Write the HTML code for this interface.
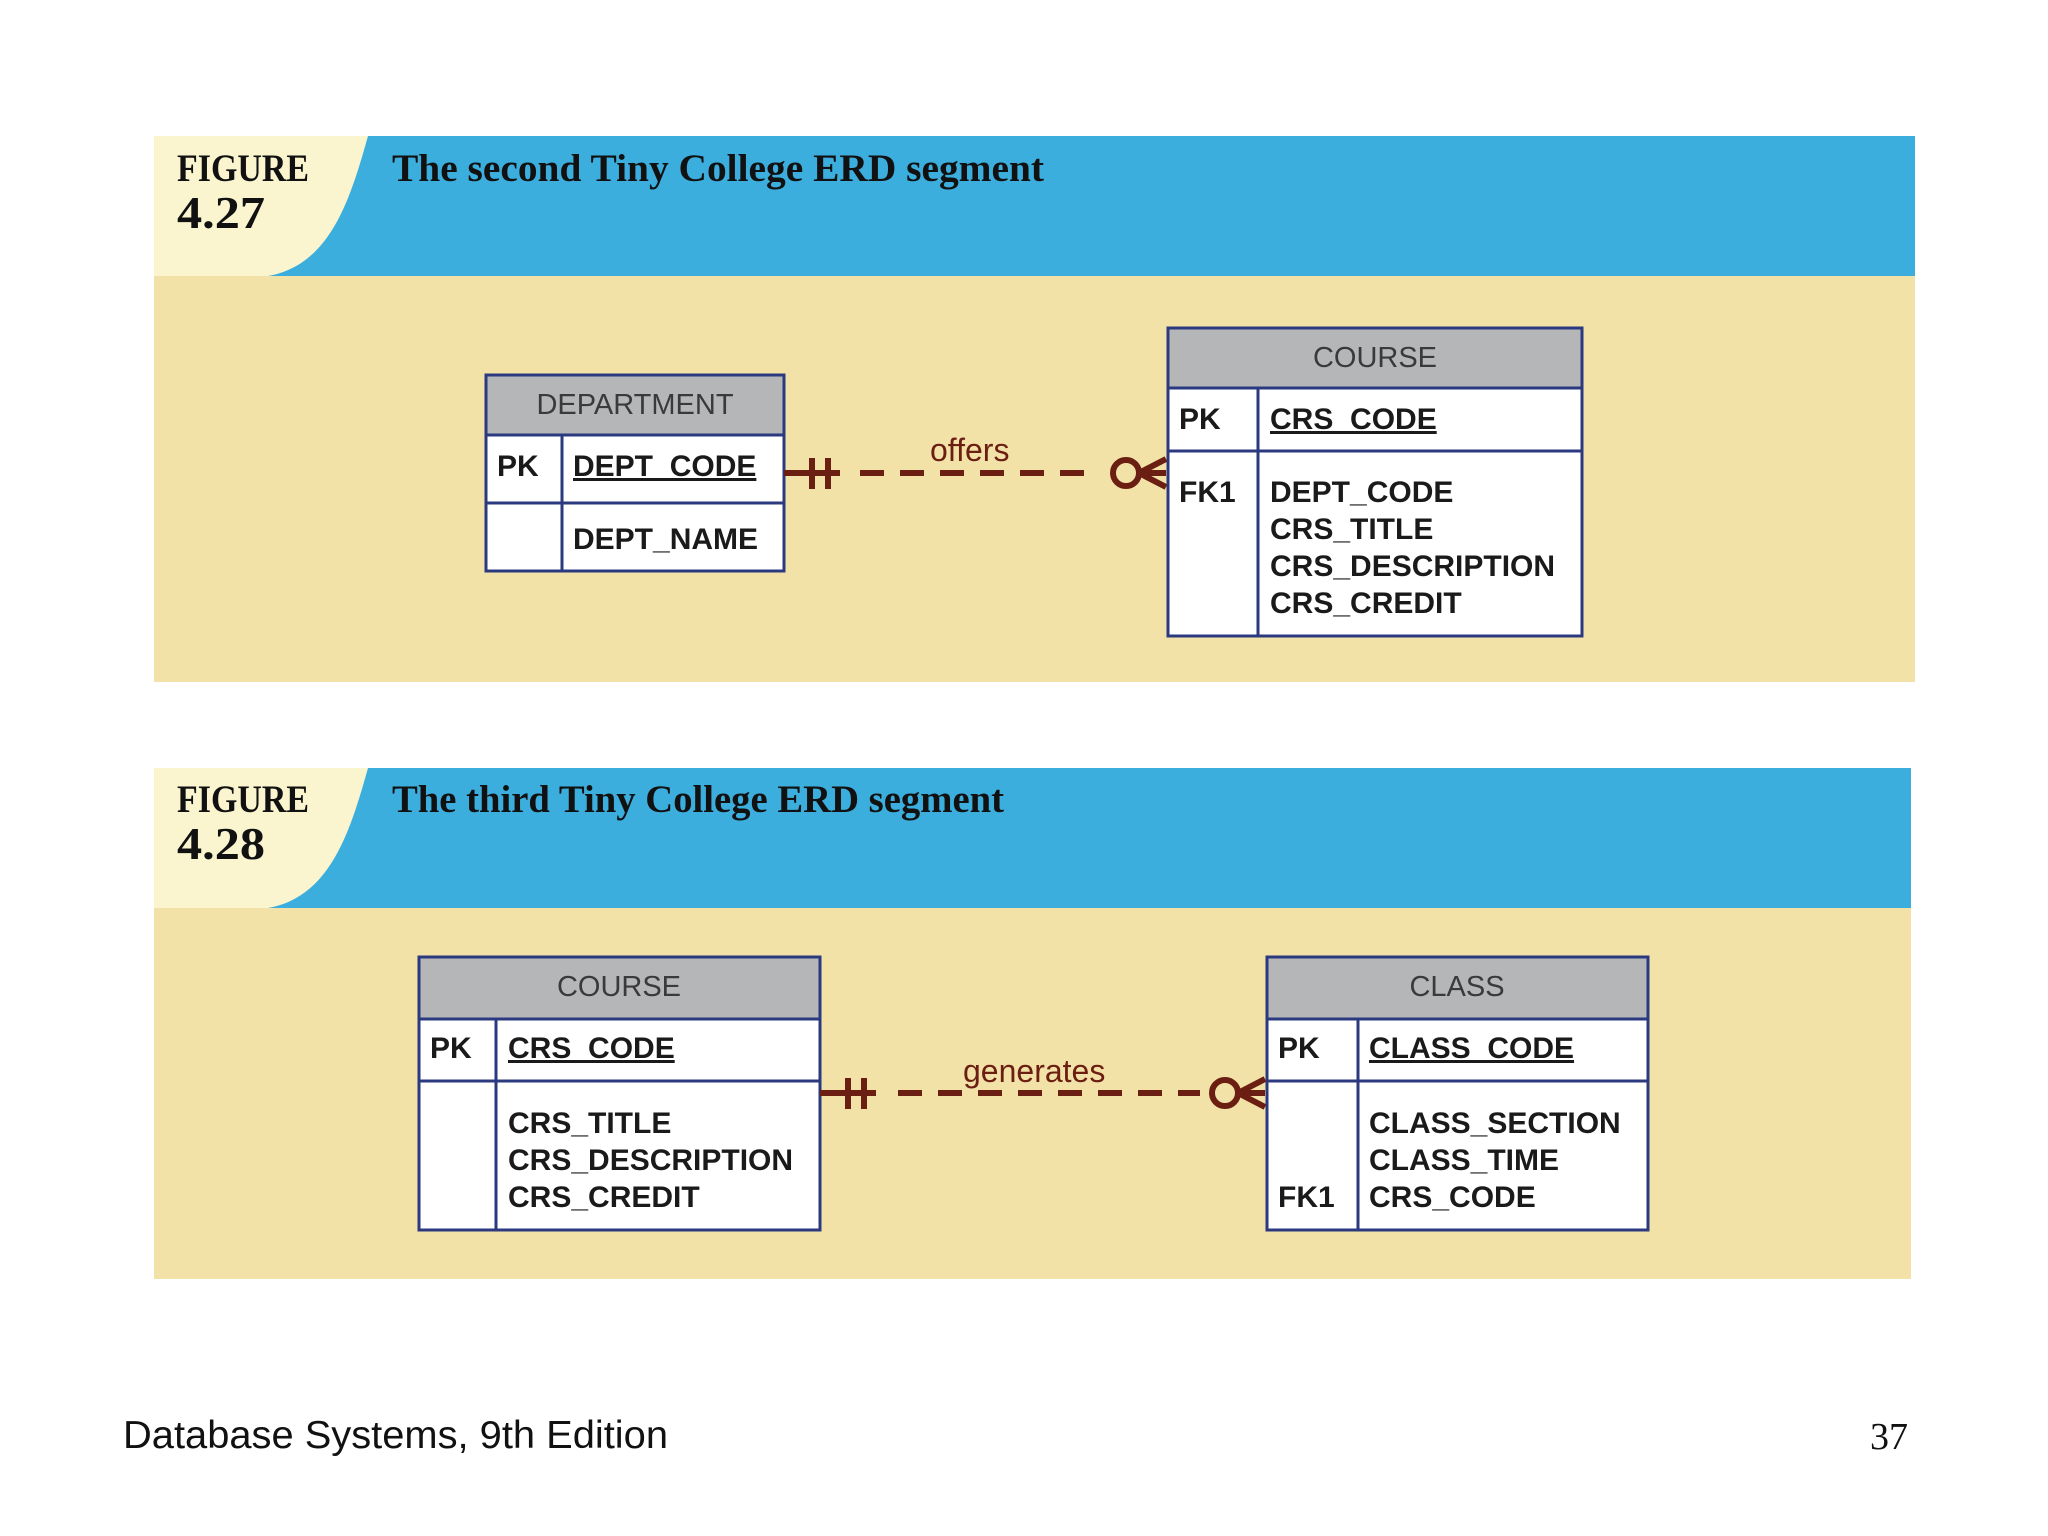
<!DOCTYPE html>
<html><head><meta charset="utf-8"><style>
html,body{margin:0;padding:0;background:#fff;width:2048px;height:1536px;overflow:hidden}
svg{display:block}
.t{font-family:"Liberation Sans",Arial,sans-serif;font-weight:bold;font-size:30px;fill:#1a1a1a}
.h{font-family:"Liberation Sans",Arial,sans-serif;font-size:29px;fill:#3a3a3a}
.fig{font-family:"Liberation Serif",serif;font-weight:bold;fill:#111}
.rel{font-family:"Liberation Sans",Arial,sans-serif;font-size:32px;fill:#6b1e12}
</style></head><body>
<svg width="2048" height="1536" viewBox="0 0 2048 1536" xmlns="http://www.w3.org/2000/svg">
<!-- Panel 1 -->
<rect x="154" y="136" width="1761" height="546" fill="#f2e2a8"/>
<rect x="154" y="136" width="1761" height="140" fill="#3caedd"/>
<path d="M154 136 H368 C350 200 330 265 268 276 H154 Z" fill="#faf5cf"/>
<text class="fig" x="177" y="181" font-size="39" textLength="132" lengthAdjust="spacingAndGlyphs">FIGURE</text>
<text class="fig" x="177" y="228" font-size="46" textLength="88" lengthAdjust="spacingAndGlyphs">4.27</text>
<text class="fig" x="392" y="181" font-size="39" textLength="652" lengthAdjust="spacingAndGlyphs">The second Tiny College ERD segment</text>

<!-- DEPARTMENT -->
<g stroke="#2b3a80" stroke-width="3">
<rect x="486" y="375" width="298" height="196" fill="#fff"/>
<rect x="486" y="375" width="298" height="60" fill="#b5b6b8"/>
<line x1="486" y1="503" x2="784" y2="503"/>
<line x1="562" y1="435" x2="562" y2="571"/>
</g>
<text class="h" x="635" y="414" text-anchor="middle">DEPARTMENT</text>
<text class="t" x="497" y="476">PK</text>
<text class="t" x="573" y="476" text-decoration="underline">DEPT_CODE</text>
<text class="t" x="573" y="549">DEPT_NAME</text>

<!-- COURSE 1 -->
<g stroke="#2b3a80" stroke-width="3">
<rect x="1168" y="328" width="414" height="308" fill="#fff"/>
<rect x="1168" y="328" width="414" height="60" fill="#b5b6b8"/>
<line x1="1168" y1="451" x2="1582" y2="451"/>
<line x1="1258" y1="388" x2="1258" y2="636"/>
</g>
<text class="h" x="1375" y="367" text-anchor="middle">COURSE</text>
<text class="t" x="1179" y="429">PK</text>
<text class="t" x="1270" y="429" text-decoration="underline">CRS_CODE</text>
<text class="t" x="1179" y="502">FK1</text>
<text class="t" x="1270" y="502">DEPT_CODE</text>
<text class="t" x="1270" y="539">CRS_TITLE</text>
<text class="t" x="1270" y="576">CRS_DESCRIPTION</text>
<text class="t" x="1270" y="613">CRS_CREDIT</text>

<!-- connector 1 -->
<g stroke="#6b1e12" stroke-width="6" fill="none">
<line x1="784" y1="473" x2="840" y2="473"/>
<line x1="812" y1="458" x2="812" y2="489"/>
<line x1="828" y1="458" x2="828" y2="489"/>
<line x1="860" y1="473" x2="1100" y2="473" stroke-dasharray="24,16"/>
<circle cx="1126" cy="473" r="13"/>
<line x1="1139" y1="473" x2="1166" y2="473"/>
<line x1="1139" y1="473" x2="1166" y2="459"/>
<line x1="1139" y1="473" x2="1166" y2="487"/>
</g>
<text class="rel" x="930" y="461">offers</text>

<!-- Panel 2 -->
<rect x="154" y="768" width="1757" height="511" fill="#f2e2a8"/>
<rect x="154" y="768" width="1757" height="140" fill="#3caedd"/>
<path d="M154 768 H368 C350 832 330 897 268 908 H154 Z" fill="#faf5cf"/>
<text class="fig" x="177" y="812" font-size="39" textLength="132" lengthAdjust="spacingAndGlyphs">FIGURE</text>
<text class="fig" x="177" y="859" font-size="46" textLength="88" lengthAdjust="spacingAndGlyphs">4.28</text>
<text class="fig" x="392" y="812" font-size="39" textLength="612" lengthAdjust="spacingAndGlyphs">The third Tiny College ERD segment</text>

<!-- COURSE 2 -->
<g stroke="#2b3a80" stroke-width="3">
<rect x="419" y="957" width="401" height="273" fill="#fff"/>
<rect x="419" y="957" width="401" height="62" fill="#b5b6b8"/>
<line x1="419" y1="1081" x2="820" y2="1081"/>
<line x1="496" y1="1019" x2="496" y2="1230"/>
</g>
<text class="h" x="619" y="996" text-anchor="middle">COURSE</text>
<text class="t" x="430" y="1058">PK</text>
<text class="t" x="508" y="1058" text-decoration="underline">CRS_CODE</text>
<text class="t" x="508" y="1133">CRS_TITLE</text>
<text class="t" x="508" y="1170">CRS_DESCRIPTION</text>
<text class="t" x="508" y="1207">CRS_CREDIT</text>

<!-- CLASS -->
<g stroke="#2b3a80" stroke-width="3">
<rect x="1267" y="957" width="381" height="273" fill="#fff"/>
<rect x="1267" y="957" width="381" height="62" fill="#b5b6b8"/>
<line x1="1267" y1="1081" x2="1648" y2="1081"/>
<line x1="1358" y1="1019" x2="1358" y2="1230"/>
</g>
<text class="h" x="1457" y="996" text-anchor="middle">CLASS</text>
<text class="t" x="1278" y="1058">PK</text>
<text class="t" x="1369" y="1058" text-decoration="underline">CLASS_CODE</text>
<text class="t" x="1369" y="1133">CLASS_SECTION</text>
<text class="t" x="1369" y="1170">CLASS_TIME</text>
<text class="t" x="1278" y="1207">FK1</text>
<text class="t" x="1369" y="1207">CRS_CODE</text>

<!-- connector 2 -->
<g stroke="#6b1e12" stroke-width="6" fill="none">
<line x1="820" y1="1093" x2="876" y2="1093"/>
<line x1="848" y1="1078" x2="848" y2="1109"/>
<line x1="864" y1="1078" x2="864" y2="1109"/>
<line x1="898" y1="1093" x2="1200" y2="1093" stroke-dasharray="24,16"/>
<circle cx="1225" cy="1093" r="13"/>
<line x1="1238" y1="1093" x2="1265" y2="1093"/>
<line x1="1238" y1="1093" x2="1265" y2="1079"/>
<line x1="1238" y1="1093" x2="1265" y2="1107"/>
</g>
<text class="rel" x="963" y="1082">generates</text>

<!-- footer -->
<text x="123" y="1448" font-family="Liberation Sans, Arial, sans-serif" font-size="39" fill="#111" textLength="545" lengthAdjust="spacingAndGlyphs">Database Systems, 9th Edition</text>
<text x="1908" y="1449" font-family="Liberation Serif, serif" font-size="38" fill="#111" text-anchor="end">37</text>
</svg>
</body></html>
